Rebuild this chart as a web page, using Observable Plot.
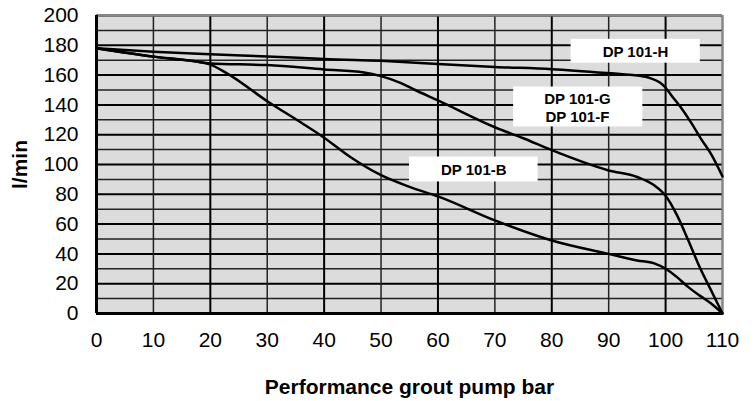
<!DOCTYPE html>
<html><head><meta charset="utf-8">
<script src="https://cdn.jsdelivr.net/npm/d3@7"></script>
<script src="https://cdn.jsdelivr.net/npm/@observablehq/plot@0.6"></script>
<style>
body{margin:0;background:#fff;font-family:"Liberation Sans",Arial,sans-serif;}
</style></head><body><div id="chart"></div>
<script>
const pressure_H = [0,10,20,30,40,53,60,70,80,92,95,97.4,99,100,101,102.6,104.4,106.2,108,110];
const flow_H     = [178,175.7,174,172.5,170.8,169,167.4,165.5,164,160.7,159.8,157.8,155,151.5,146.5,138.7,128.6,117.4,107,92];
const pressure_GF = [0,10,17,20,30,40,47,50,53.4,56,60,70,75,80,90,95,98,100,102,104,106,108,110];
const flow_GF     = [178,172.4,169.4,167.8,166.7,163.8,161.8,159.3,154.8,150,143,125,117.6,109.6,96,91.6,86,79,66,49,31,15.5,0];
const pressure_B = [0,10,17,20,23,30,36,40,44.6,50,55,60,70,80,90,95,98,100,102,104,106,108,110];
const flow_B     = [178,172.4,169.4,167,161,142.5,128,118,105,92.8,85,78.6,62.5,49,40,35.6,33.6,30,24.4,17.7,12,6.7,0];
const labelNames = ["DP 101-H", "DP 101-G\nDP 101-F", "DP 101-B"];
const labelX = [94.7, 84.5, 66.3];
const labelY = [176, 138.6, 96.8];
const labelX1 = [83.4, 73.3, 55];
const labelX2 = [106.1, 96, 77.6];
const labelY1 = [168, 125.2, 88.3];
const labelY2 = [184, 152, 105];
const xTicks = d3.range(0, 111, 10);
const yTicks = d3.range(0, 201, 20);
const yMinor = d3.range(10, 200, 20);

const curves = [
  pressure_H.map((p,i)=>({p, q:flow_H[i]})),
  pressure_GF.map((p,i)=>({p, q:flow_GF[i]})),
  pressure_B.map((p,i)=>({p, q:flow_B[i]}))
];
const labels = labelNames.map((n,i)=>({n, x:labelX[i], y:labelY[i], x1:labelX1[i], x2:labelX2[i], y1:labelY1[i], y2:labelY2[i]}));

const chart = Plot.plot({
  width: 755, height: 401,
  marginLeft: 96, marginRight: 33, marginTop: 15, marginBottom: 88,
  style: {fontFamily: '"Liberation Sans", Arial, sans-serif', fontSize: "21px", color: "#000", background: "#fff"},
  x: {domain: [0, 110], label: null},
  y: {domain: [0, 200], label: null},
  marks: [
    Plot.frame({fill: "#dcdcdc", stroke: null}),
    Plot.ruleY(yMinor, {stroke: "#222", strokeWidth: 1.5}),
    Plot.ruleY(yTicks, {stroke: "#000", strokeWidth: 2}),
    Plot.ruleX(xTicks.filter(d => d % 20 === 10), {stroke: "#222", strokeWidth: 1.5}),
    Plot.ruleX(xTicks.filter(d => d % 20 === 0), {stroke: "#000", strokeWidth: 2}),
    Plot.ruleX([110], {stroke: "#888", strokeWidth: 2}),
    Plot.ruleY([200], {stroke: "#888", strokeWidth: 2}),
    Plot.rect(labels, {x1: "x1", x2: "x2", y1: "y1", y2: "y2", fill: "#fff"}),
    ...curves.map(c => Plot.line(c, {x: "p", y: "q", stroke: "#000", strokeWidth: 2.5, curve: "monotone-x"})),
    Plot.text(labels, {x: "x", y: "y", text: "n", fontWeight: "bold", fontSize: 15, lineHeight: 1.25, fill: "#000"}),
    Plot.ruleX([0], {stroke: "#000", strokeWidth: 3}),
    Plot.ruleY([0], {stroke: "#000", strokeWidth: 3}),
    Plot.axisX({ticks: xTicks, tickSize: 0, tickPadding: 19, label: null, fontSize: 21}),
    Plot.axisY({ticks: yTicks, tickSize: 0, tickPadding: 18, label: null, fontSize: 21}),
    Plot.text(["Performance grout pump bar"], {frameAnchor: "bottom", dy: 80, fontWeight: "bold", fontSize: 21, fill: "#000"}),
    Plot.text(["l/min"], {frameAnchor: "left", textAnchor: "middle", dx: -76, rotate: -90, fontWeight: "bold", fontSize: 21, fill: "#000"})
  ]
});
document.getElementById("chart").appendChild(chart);
</script></body></html>
